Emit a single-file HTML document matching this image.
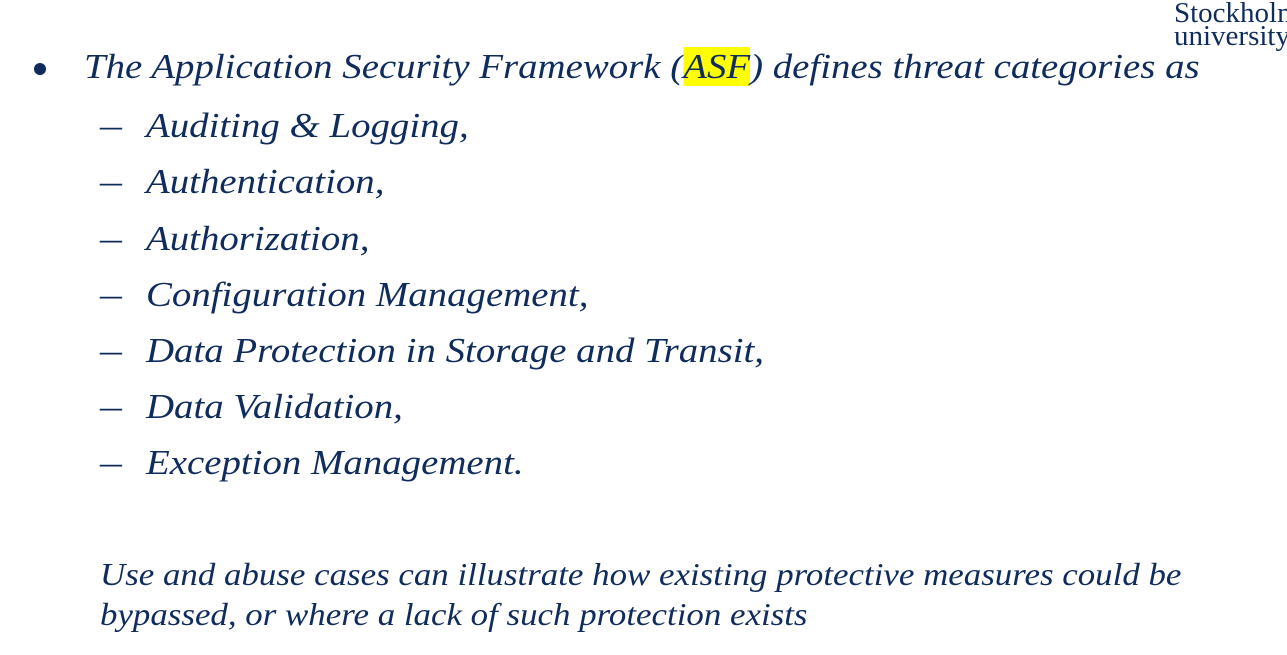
<!DOCTYPE html>
<html><head><meta charset="utf-8"><style>
body{margin:0;width:1287px;height:655px;background:#fff;overflow:hidden;position:relative;font-family:"Liberation Serif",serif;color:#0f2c5c}
.t{position:absolute;white-space:nowrap;font-style:italic;font-size:35px;line-height:1;transform:scaleX(1.11);transform-origin:0 0}
.d{position:absolute;font-size:35px;line-height:1;transform:scaleX(1.25);transform-origin:0 0}
.logo{position:absolute;left:1174px;top:2px;font-size:29px;line-height:23px;color:#0f2c5c;white-space:nowrap}
mark{background:#ffff00;color:inherit}
</style></head><body>
<div class="logo">Stockholm<br>university</div>
<div style="position:absolute;left:34px;top:63px;width:12px;height:12px;border-radius:50%;background:#0f2c5c"></div>
<div class="t" style="left:84px;top:49px">The Application Security Framework (<mark>ASF</mark>) defines threat categories as</div>
<div>
<div class="d" style="left:100px;top:108px">–</div><div class="t" style="left:146px;top:108px">Auditing &amp; Logging,</div>
<div class="d" style="left:100px;top:164px">–</div><div class="t" style="left:146px;top:164px">Authentication,</div>
<div class="d" style="left:100px;top:221px">–</div><div class="t" style="left:146px;top:221px">Authorization,</div>
<div class="d" style="left:100px;top:277px">–</div><div class="t" style="left:146px;top:277px">Configuration Management,</div>
<div class="d" style="left:100px;top:333px">–</div><div class="t" style="left:146px;top:333px">Data Protection in Storage and Transit,</div>
<div class="d" style="left:100px;top:389px">–</div><div class="t" style="left:146px;top:389px">Data Validation,</div>
<div class="d" style="left:100px;top:445px">–</div><div class="t" style="left:146px;top:445px">Exception Management.</div>
</div>
<div class="t" style="left:100px;top:558px;font-size:32px;transform:scaleX(1.09)">Use and abuse cases can illustrate how existing protective measures could be</div>
<div class="t" style="left:100px;top:598px;font-size:32px;transform:scaleX(1.09)">bypassed, or where a lack of such protection exists</div>
</body></html>
